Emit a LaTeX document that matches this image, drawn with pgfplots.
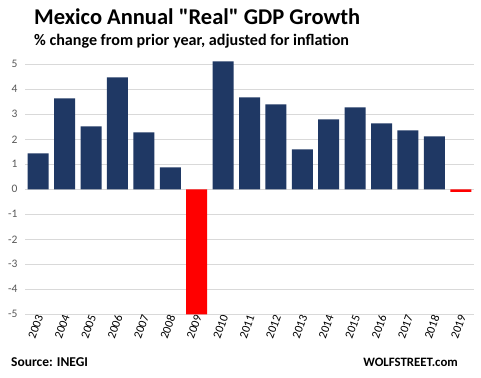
\documentclass[border=0pt]{standalone}
\usepackage{pgfplots}
\pgfplotsset{compat=1.18}
\usepackage{fontspec}
\setmainfont{Carlito}
\newfontfamily\plaincarlito{Carlito}
\definecolor{barblue}{RGB}{31,56,100}
\definecolor{gridgray}{RGB}{217,217,217}
\definecolor{ticktext}{RGB}{89,89,89}
\begin{document}
\begin{tikzpicture}
\fill[white] (0pt,0pt) rectangle (481pt,377pt);
\node[anchor=base west,inner sep=0pt,font=\plaincarlito\bfseries\fontsize{22.5}{25}\selectfont] at (34pt,352pt) {Mexico Annual "Real" GDP Growth};
\node[anchor=base west,inner sep=0pt,font=\bfseries\fontsize{16.1}{18}\selectfont] at (34pt,331pt) {\% change from prior year, adjusted for inflation};
\begin{axis}[
  at={(25pt,62.7pt)}, anchor=south west,
  scale only axis, width=449pt, height=250pt,
  xmin=-0.5, xmax=16.5, ymin=-5, ymax=5,
  ytick={-5,...,5},
  xtick={0,...,16},
  xticklabels={2003,2004,2005,2006,2007,2008,2009,2010,2011,2012,2013,2014,2015,2016,2017,2018,2019},
  ymajorgrids, grid style={gridgray, line width=0.9pt},
  major tick length=0pt,
  axis line style={draw=none},
  yticklabel style={font=\fontsize{11.5}{13}\selectfont, text=ticktext, anchor=east, xshift=-4pt},
  xticklabel style={font=\fontsize{12}{14}\selectfont, text=black, rotate=70, anchor=east, xshift=3pt, yshift=-2pt},
  /pgf/number format/assume math mode=true,
  clip=false,
]
\addplot[ybar, bar width=21pt, draw=none, fill=barblue] coordinates {
(0,1.44) (1,3.64) (2,2.52) (3,4.48) (4,2.28) (5,0.88)
(7,5.12) (8,3.68) (9,3.40) (10,1.60) (11,2.80) (12,3.28)
(13,2.64) (14,2.36) (15,2.12)};
\addplot[ybar, bar width=21pt, draw=none, fill=red] coordinates {
(6,-5.0) (16,-0.10)};
\end{axis}
\node[anchor=west,inner sep=0pt,font=\bfseries\fontsize{13.5}{15}\selectfont] at (11pt,15pt) {Source: INEGI};
\node[anchor=east,inner sep=0pt,font=\bfseries\fontsize{12.8}{15}\selectfont] at (458pt,15pt) {WOLFSTREET.com};
\end{tikzpicture}
\end{document}
